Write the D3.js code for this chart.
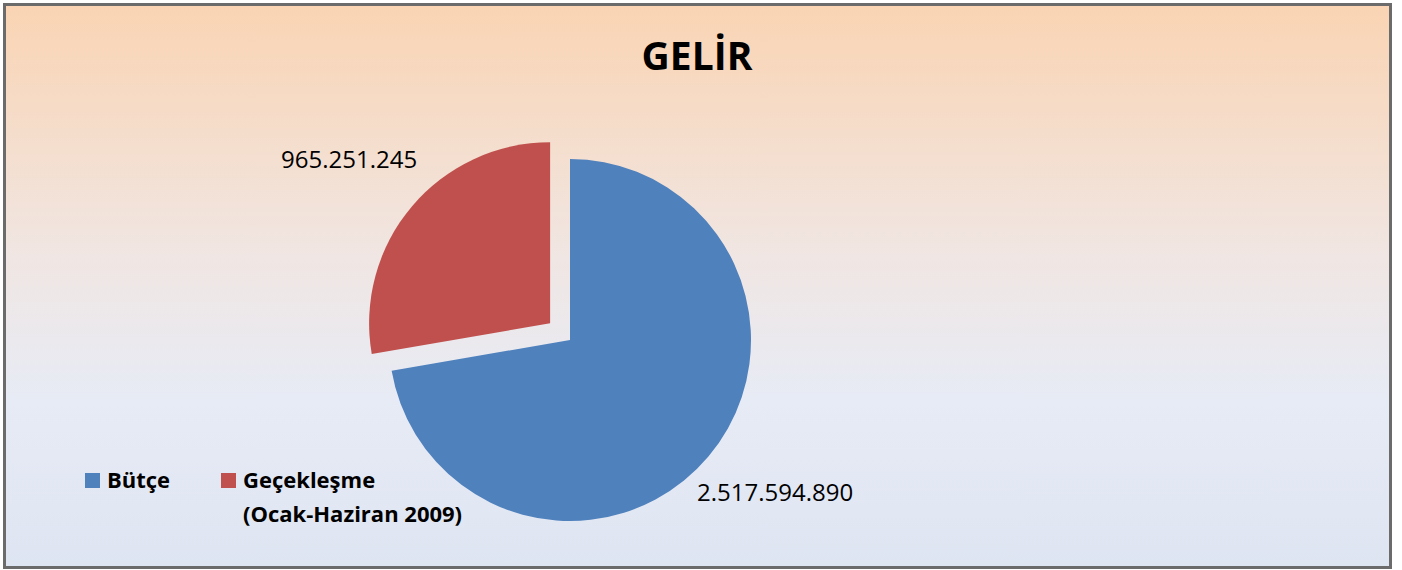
<!DOCTYPE html>
<html>
<head>
<meta charset="utf-8">
<script src="https://cdn.jsdelivr.net/npm/d3@7"></script>
<style>
  body { margin: 0; background: #ffffff; }
  svg { display: block; }
</style>
</head>
<body>
<svg id="chart"></svg>
<script>
// data
const categories = ["Bütçe", "Geçekleşme (Ocak-Haziran 2009)"];
const values = [2517594890, 965251245];
const valueLabels = ["2.517.594.890", "965.251.245"];
const colors = ["#4F81BD", "#C0504D"];
const legendLines = [["Bütçe"], ["Geçekleşme", "(Ocak-Haziran 2009)"]];

const W = 1402, H = 570;
const svg = d3.select("#chart").attr("width", W).attr("height", H);

const defs = svg.append("defs");
const grad = defs.append("linearGradient")
  .attr("id", "bg").attr("x1", 0).attr("y1", 0).attr("x2", 0).attr("y2", 1);
grad.append("stop").attr("offset", "0%").attr("stop-color", "#FAD4B3");
grad.append("stop").attr("offset", "45%").attr("stop-color", "#F0E6E3");
grad.append("stop").attr("offset", "70%").attr("stop-color", "#E7EBF5");
grad.append("stop").attr("offset", "100%").attr("stop-color", "#DEE5F2");

svg.append("rect")
  .attr("x", 4.5).attr("y", 4.5)
  .attr("width", 1386).attr("height", 563)
  .attr("fill", "url(#bg)")
  .attr("stroke", "#6b6b6b")
  .attr("stroke-width", 3);

svg.append("text")
  .attr("x", 697).attr("y", 70)
  .attr("text-anchor", "middle")
  .style("font-family", "'Open Sans', sans-serif")
  .style("font-weight", "bold")
  .style("font-size", "39px")
  .text("GELİR");

// pie
const cx = 570, cy = 340, r = 181;
const pie = d3.pie().sort(null).value(d => d);
const arcs = pie(values);
const arc = d3.arc().innerRadius(0).outerRadius(r);
const explode = [0, 26];

const g = svg.append("g").attr("transform", `translate(${cx},${cy})`);
g.selectAll("path")
  .data(arcs)
  .join("path")
  .attr("d", arc)
  .attr("fill", (d, i) => colors[i])
  .attr("transform", (d, i) => {
    const a = (d.startAngle + d.endAngle) / 2;
    return `translate(${Math.sin(a) * explode[i]},${-Math.cos(a) * explode[i]})`;
  });

// value labels
const labelPos = [[697, 501], [281, 168]];
svg.selectAll("text.val")
  .data(valueLabels)
  .join("text")
  .attr("class", "val")
  .attr("x", (d, i) => labelPos[i][0])
  .attr("y", (d, i) => labelPos[i][1])
  .style("font-family", "'Open Sans', sans-serif")
  .style("font-size", "24px")
  .attr("fill", "#000")
  .text(d => d);

// legend
const legendX = [85, 221];
const leg = svg.selectAll("g.leg")
  .data(categories)
  .join("g")
  .attr("class", "leg")
  .attr("transform", (d, i) => `translate(${legendX[i]},473)`);
leg.append("rect")
  .attr("width", 15).attr("height", 15)
  .attr("fill", (d, i) => colors[i]);
leg.each(function (d, i) {
  const t = d3.select(this).append("text")
    .attr("x", 22).attr("y", 15)
    .style("font-family", "'Open Sans', sans-serif")
    .style("font-weight", "bold")
    .style("font-size", "22px");
  legendLines[i].forEach((line, j) => {
    t.append("tspan").attr("x", 22).attr("dy", j === 0 ? 0 : 34).text(line);
  });
});
</script>
</body>
</html>
